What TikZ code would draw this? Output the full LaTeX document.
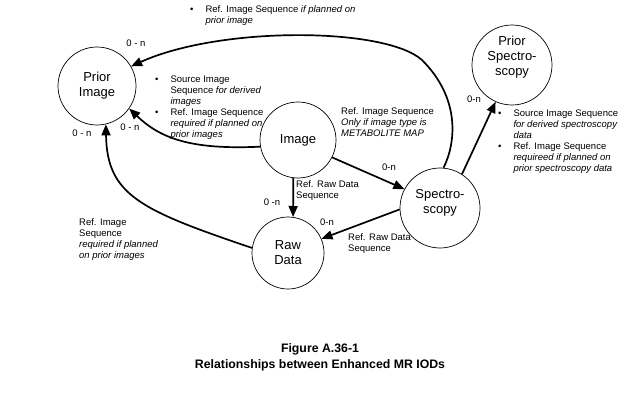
\documentclass[tikz,border=0pt]{standalone}
\usepackage{fontspec}
\setmainfont{Liberation Sans}
\usetikzlibrary{arrows.meta}

\begin{document}
\begin{tikzpicture}[x=1pt,y=1pt,>={Triangle[length=11pt,width=9pt]},
  iod/.style={circle,draw,line width=0.7pt,minimum size=78pt,inner sep=0pt,align=center,font=\fontsize{13}{15}\selectfont},
  rel/.style={->,line width=1.7pt},
  note/.style={anchor=base west,inner sep=0pt,font=\fontsize{9.5}{11}\selectfont},
  card/.style={inner sep=0pt,font=\fontsize{9.5}{11}\selectfont}]
\useasboundingbox (0,0) rectangle (640,400);
\node[iod] (prior) at (97,314) {Prior\\Image};
\node[iod,minimum size=76pt] (image) at (298,260) {Image};
\node[iod,minimum size=72pt] (raw) at (288,147) {Raw\\Data};
\node[iod,minimum size=80pt,text depth=14pt] (spec) at (440,192) {Spectro-\\scopy};
\node[iod,minimum size=80pt,text depth=18pt] (pspec) at (512,335) {Prior\\Spectro-\\scopy};

\draw[rel] (spec.85) .. controls (455,255) and (462,300) .. (422,340) .. controls (385,373) and (220,374) .. (prior.30);
\draw[rel] (image.190) .. controls (190,250) and (160,262) .. (prior.-35);
\draw[rel] (raw.172) .. controls (140,190) and (107,205) .. (prior.-77);
\draw[rel] (image.263) -- (raw.82);
\draw[rel] (image.-27) -- (spec.152);
\draw[rel] (spec.182) -- (raw.23);
\draw[rel] (spec.57) -- (pspec.246);

\node[card] (c1) at (136,357) {0 - n};
\node[card] (c2) at (130,273) {0 - n};
\node[card] (c3) at (82,267) {0 - n};
\node[card] (c4) at (272,198) {0 -n};
\node[card] (c5) at (389,233) {0-n};
\node[card] (c6) at (327,178) {0-n};
\node[card] (c7) at (474,301) {0-n};

\node[note] (t1) at (190,387.6) {\begin{tabular}[t]{@{}l@{\hspace{12pt}}l@{}}
  \textbullet & Ref. Image Sequence \textit{if planned on}\\
  & \textit{prior image}\end{tabular}};
\node[note] (t2) at (155,317.6) {\begin{tabular}[t]{@{}l@{\hspace{12pt}}l@{}}
  \textbullet & Source Image\\
  & Sequence \textit{for derived}\\
  & \textit{images}\\
  \textbullet & Ref. Image Sequence\\
  & \textit{required if planned on}\\
  & \textit{prior images}\end{tabular}};
\node[note] (t3) at (498,283.6) {\begin{tabular}[t]{@{}l@{\hspace{12pt}}l@{}}
  \textbullet & Source Image Sequence\\
  & \textit{for derived spectroscopy}\\
  & \textit{data}\\
  \textbullet & Ref. Image Sequence\\
  & \textit{requireed if planned on}\\
  & \textit{prior spectroscopy data}\end{tabular}};
\node[note] (t4) at (341,285.6) {\begin{tabular}[t]{@{}l@{}}
  Ref. Image Sequence\\
  \textit{Only if image type is}\\
  \textit{METABOLITE MAP}\end{tabular}};
\node[note] (t5) at (296,212.6) {\begin{tabular}[t]{@{}l@{}}
  Ref. Raw Data\\
  Sequence\end{tabular}};
\node[note] (t6) at (348,159.6) {\begin{tabular}[t]{@{}l@{}}
  Ref. Raw Data\\
  Sequence\end{tabular}};
\node[note] (t7) at (79,174.6) {\begin{tabular}[t]{@{}l@{}}
  Ref. Image\\
  Sequence\\
  \textit{required if planned}\\
  \textit{on prior images}\end{tabular}};

\node[align=center,font=\bfseries\fontsize{12.3}{16}\selectfont] (cap) at (320,43)
  {Figure A.36-1\\Relationships between Enhanced MR IODs};
\end{tikzpicture}
\end{document}
